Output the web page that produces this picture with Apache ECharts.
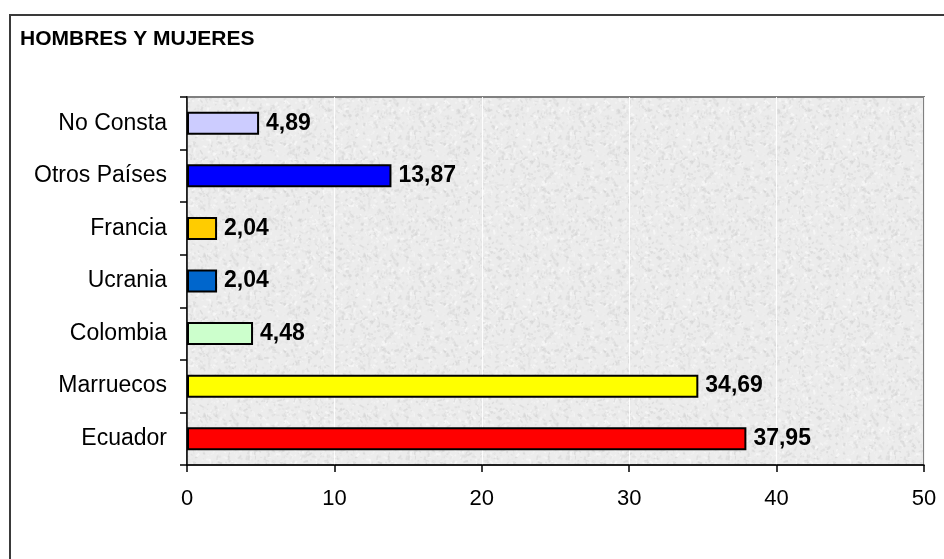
<!DOCTYPE html>
<html>
<head>
<meta charset="utf-8">
<script src="https://cdn.jsdelivr.net/npm/echarts@6/dist/echarts.min.js"></script>
<style>
  html, body { margin: 0; padding: 0; background: #ffffff; }
  #chart { width: 944px; height: 559px; }
</style>
</head>
<body>
<div id="chart"></div>
<script>
// Origin countries, listed from bottom to top of the chart
const categories = ['Ecuador', 'Marruecos', 'Colombia', 'Ucrania', 'Francia', 'Otros Países', 'No Consta'];
// Percentage for each country
const values = [37.95, 34.69, 4.48, 2.04, 2.04, 13.87, 4.89];
// Fill colour for each bar
const barColors = ['#FF0000', '#FFFF00', '#CCFFCC', '#0066CC', '#FFCC00', '#0000FF', '#CCCCFF'];
// Value axis ticks
const axisTicks = [0, 10, 20, 30, 40, 50];

// Grey granite texture for the plot background (deterministic speckle)
function makeGranite() {
  const size = 160;
  const c = document.createElement('canvas');
  c.width = size; c.height = size;
  const ctx = c.getContext('2d');
  ctx.fillStyle = '#ececec';
  ctx.fillRect(0, 0, size, size);
  let seed = 1234567;
  const next = () => { seed = (seed * 1103515245 + 12345) & 0x7fffffff; return seed / 0x7fffffff; };
  for (let i = 0; i < 2600; i++) {
    const x = next() * size, y = next() * size;
    const g = Math.round(205 + next() * 50);
    ctx.strokeStyle = 'rgba(' + g + ',' + g + ',' + g + ',0.55)';
    ctx.lineWidth = 1 + next() * 1.5;
    const a = next() * Math.PI * 2, l = 1 + next() * 4;
    ctx.beginPath();
    ctx.moveTo(x, y);
    ctx.lineTo(x + Math.cos(a) * l, y + Math.sin(a) * l);
    ctx.stroke();
  }
  return c;
}

const chart = echarts.init(document.getElementById('chart'), null, { renderer: 'canvas' });
const FONT = 'Arial, "Liberation Sans", sans-serif';

chart.setOption({
  animation: false,
  backgroundColor: '#ffffff',
  title: {
    text: 'HOMBRES Y MUJERES',
    left: 15,
    top: 24,
    textStyle: { fontFamily: FONT, fontSize: 21, fontWeight: 'bold', color: '#000000' }
  },
  graphic: [{
    type: 'rect',
    shape: { x: 10, y: 15, width: 960, height: 600 },
    style: { fill: 'none', stroke: '#3a3a3a', lineWidth: 2 },
    silent: true,
    z: -1
  }],
  grid: {
    left: 187, right: 20, top: 97, bottom: 94,
    show: true,
    backgroundColor: { image: makeGranite(), repeat: 'repeat' },
    borderColor: '#808080',
    borderWidth: 2
  },
  xAxis: {
    type: 'value',
    min: 0, max: 50, interval: 10,
    axisLine: { show: true, lineStyle: { color: '#000000', width: 1.5 } },
    axisTick: { show: true, length: 7, lineStyle: { color: '#000000', width: 1.5 } },
    axisLabel: {
      margin: 23,
      fontFamily: FONT,
      fontSize: 22,
      color: '#000000',
      customValues: axisTicks
    },
    splitLine: { show: true, lineStyle: { color: 'rgba(255,255,255,0.9)', width: 1 } }
  },
  yAxis: {
    type: 'category',
    data: categories,
    axisLine: { show: true, lineStyle: { color: '#000000', width: 1.5 } },
    axisTick: { show: true, length: 7, lineStyle: { color: '#000000', width: 1.5 } },
    axisLabel: {
      margin: 20,
      fontFamily: FONT,
      fontSize: 23,
      color: '#000000'
    },
    splitLine: { show: false }
  },
  series: [{
    type: 'bar',
    barWidth: 23,
    data: values.map((v, i) => ({
      value: v,
      itemStyle: { color: barColors[i], borderColor: '#000000', borderWidth: 2 }
    })),
    label: {
      show: true,
      position: 'right',
      distance: 7,
      fontFamily: FONT,
      fontSize: 23,
      fontWeight: 'bold',
      color: '#000000',
      formatter: p => p.value.toFixed(2).replace('.', ',')
    }
  }]
});
</script>
</body>
</html>
